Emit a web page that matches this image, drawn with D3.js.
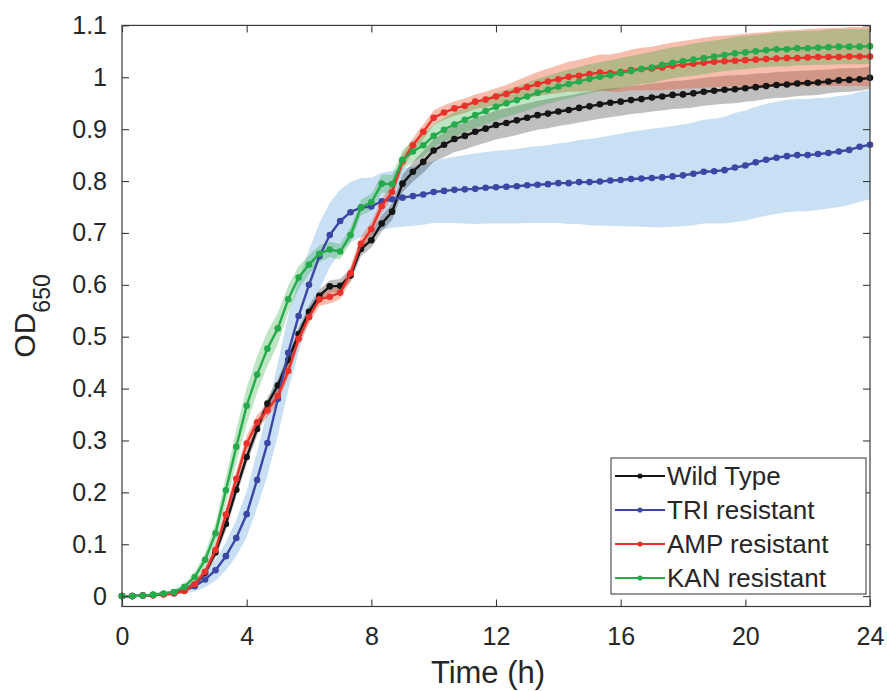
<!DOCTYPE html>
<html>
<head>
<meta charset="utf-8">
<script src="https://cdnjs.cloudflare.com/ajax/libs/d3/7.8.5/d3.min.js"></script>
<style>
  body { margin: 0; background: #fff; }
  text { font-family: "Liberation Sans", Arial, Helvetica, sans-serif; fill: #262626; }
</style>
</head>
<body>
<div id="chart"></div>
<script>
// sampling times (minutes), one reading every 20 min
var minutes = [0,20,40,60,80,100,120,140,160,180,200,220,240,260,280,300,320,340,360,380,400,420,440,460,480,500,520,540,560,580,600,620,640,660,680,700,720,740,760,780,800,820,840,860,880,900,920,940,960,980,1000,1020,1040,1060,1080,1100,1120,1140,1160,1180,1200,1220,1240,1260,1280,1300,1320,1340,1360,1380,1400,1420,1440];

// mean OD650 per strain
var wildType = [0,0,0.001,0.002,0.004,0.007,0.012,0.022,0.045,0.084,0.139,0.205,0.268,0.322,0.371,0.406,0.455,0.505,0.548,0.579,0.597,0.598,0.618,0.669,0.686,0.718,0.741,0.795,0.818,0.837,0.859,0.870,0.881,0.887,0.895,0.901,0.908,0.912,0.917,0.922,0.927,0.930,0.934,0.937,0.941,0.944,0.948,0.951,0.953,0.956,0.958,0.961,0.963,0.966,0.967,0.969,0.972,0.974,0.976,0.977,0.979,0.981,0.983,0.985,0.986,0.988,0.989,0.990,0.992,0.994,0.995,0.996,0.999];
var triRes = [0,0,0.001,0.002,0.004,0.006,0.012,0.019,0.032,0.050,0.077,0.112,0.158,0.224,0.295,0.380,0.469,0.540,0.600,0.655,0.696,0.723,0.740,0.749,0.751,0.761,0.765,0.768,0.771,0.774,0.779,0.781,0.783,0.784,0.785,0.787,0.788,0.789,0.790,0.792,0.793,0.794,0.796,0.796,0.798,0.798,0.799,0.801,0.802,0.804,0.805,0.806,0.807,0.809,0.811,0.814,0.818,0.819,0.821,0.826,0.830,0.836,0.841,0.845,0.848,0.850,0.850,0.852,0.854,0.857,0.860,0.866,0.870];
var ampRes = [0,0,0.001,0.002,0.003,0.005,0.010,0.023,0.047,0.089,0.157,0.226,0.294,0.335,0.358,0.386,0.434,0.496,0.538,0.572,0.577,0.585,0.622,0.679,0.707,0.752,0.779,0.838,0.869,0.895,0.922,0.932,0.940,0.945,0.953,0.957,0.963,0.968,0.975,0.981,0.987,0.992,0.996,1.001,1.003,1.006,1.009,1.008,1.010,1.014,1.016,1.017,1.019,1.022,1.024,1.026,1.028,1.030,1.031,1.032,1.033,1.034,1.035,1.036,1.037,1.037,1.038,1.039,1.039,1.039,1.040,1.040,1.040];
var kanRes = [0,0,0.001,0.003,0.005,0.008,0.018,0.037,0.070,0.121,0.204,0.288,0.367,0.427,0.477,0.516,0.572,0.614,0.639,0.660,0.668,0.664,0.696,0.749,0.759,0.795,0.794,0.841,0.857,0.869,0.887,0.899,0.909,0.918,0.927,0.935,0.943,0.950,0.956,0.963,0.970,0.976,0.982,0.987,0.992,0.997,1.001,1.004,1.008,1.012,1.016,1.019,1.024,1.028,1.031,1.034,1.037,1.040,1.043,1.046,1.048,1.050,1.052,1.054,1.054,1.056,1.056,1.057,1.058,1.059,1.059,1.059,1.060];

// standard deviation (shaded band half-width)
var wildTypeSd = [0.001,0.001,0.001,0.002,0.002,0.003,0.004,0.006,0.008,0.010,0.012,0.013,0.013,0.013,0.012,0.012,0.012,0.012,0.012,0.012,0.012,0.013,0.013,0.014,0.014,0.015,0.016,0.017,0.019,0.021,0.022,0.024,0.025,0.026,0.027,0.027,0.028,0.028,0.028,0.028,0.028,0.028,0.028,0.028,0.028,0.028,0.028,0.028,0.027,0.027,0.027,0.027,0.027,0.027,0.027,0.027,0.027,0.027,0.027,0.027,0.026,0.026,0.025,0.025,0.025,0.024,0.024,0.024,0.023,0.023,0.023,0.022,0.022];
var triResSd = [0.002,0.002,0.002,0.003,0.004,0.005,0.007,0.010,0.015,0.020,0.027,0.035,0.044,0.054,0.063,0.070,0.072,0.070,0.067,0.064,0.062,0.060,0.058,0.057,0.056,0.055,0.055,0.056,0.057,0.058,0.060,0.062,0.064,0.066,0.068,0.069,0.070,0.071,0.072,0.073,0.074,0.075,0.077,0.079,0.081,0.083,0.085,0.087,0.089,0.091,0.093,0.095,0.096,0.097,0.098,0.099,0.100,0.101,0.103,0.105,0.106,0.107,0.108,0.108,0.108,0.108,0.108,0.108,0.107,0.107,0.106,0.106,0.105];
var ampResSd = [0.001,0.001,0.001,0.002,0.002,0.003,0.004,0.006,0.009,0.012,0.014,0.015,0.015,0.014,0.013,0.013,0.013,0.013,0.013,0.013,0.013,0.013,0.014,0.014,0.014,0.014,0.014,0.014,0.014,0.014,0.014,0.014,0.014,0.014,0.014,0.015,0.016,0.017,0.019,0.021,0.023,0.025,0.027,0.029,0.031,0.033,0.035,0.036,0.038,0.039,0.041,0.042,0.044,0.045,0.046,0.047,0.048,0.049,0.049,0.050,0.051,0.052,0.052,0.053,0.054,0.054,0.055,0.055,0.056,0.056,0.057,0.057,0.058];
var kanResSd = [0.001,0.001,0.001,0.002,0.003,0.004,0.006,0.009,0.013,0.020,0.026,0.032,0.035,0.035,0.033,0.030,0.026,0.022,0.018,0.016,0.015,0.015,0.015,0.015,0.016,0.017,0.018,0.019,0.020,0.021,0.022,0.023,0.024,0.024,0.025,0.025,0.026,0.026,0.026,0.027,0.027,0.027,0.027,0.028,0.028,0.028,0.028,0.029,0.029,0.029,0.029,0.030,0.030,0.030,0.030,0.031,0.031,0.031,0.031,0.032,0.032,0.032,0.032,0.033,0.033,0.033,0.033,0.033,0.034,0.034,0.034,0.034,0.034];

var seriesNames = ["Wild Type", "TRI resistant", "AMP resistant", "KAN resistant"];
var xTicks = [0, 4, 8, 12, 16, 20, 24];
var yTicks = [0, 0.1, 0.2, 0.3, 0.4, 0.5, 0.6, 0.7, 0.8, 0.9, 1, 1.1];
var yTickLabels = ["0", "0.1", "0.2", "0.3", "0.4", "0.5", "0.6", "0.7", "0.8", "0.9", "1", "1.1"];

var lineColors = ["#151515", "#3b47a3", "#e8322b", "#26aa4b"];
var bandColors = ["#000000", "#3c8cd7", "#eb5a32", "#28aa3c"];
var bandAlpha = [0.25, 0.28, 0.4, 0.3];

// build series objects
var means = [wildType, triRes, ampRes, kanRes];
var sds = [wildTypeSd, triResSd, ampResSd, kanResSd];
var series = seriesNames.map(function(name, i) {
  return {
    name: name,
    color: lineColors[i],
    band: bandColors[i],
    alpha: bandAlpha[i],
    values: minutes.map(function(m, j) {
      return { t: m / 60, v: means[i][j], sd: sds[i][j] };
    })
  };
});

var width = 887, height = 691;
// plot box in pixels
var pLeft = 122, pRight = 870, pTop = 25.4, pBottom = 606.5;

var svg = d3.select("#chart").append("svg")
    .attr("width", width)
    .attr("height", height);

var x = d3.scaleLinear().domain([0, 24]).range([pLeft, pRight]);
var y = d3.scaleLinear().domain([-0.02, 1.1]).range([pBottom, pTop]);

// bands first (blue at the back)
var area = d3.area()
    .x(function(d) { return x(d.t); })
    .y0(function(d) { return y(d.v - d.sd); })
    .y1(function(d) { return y(d.v + d.sd); });

var bandOrder = [1, 0, 2, 3];
svg.append("g").selectAll("path")
    .data(bandOrder.map(function(i) { return series[i]; }))
    .enter().append("path")
      .attr("d", function(d) { return area(d.values); })
      .attr("fill", function(d) { return d.band; })
      .attr("fill-opacity", function(d) { return d.alpha; })
      .attr("stroke", "none");

// lines + markers
var line = d3.line()
    .x(function(d) { return x(d.t); })
    .y(function(d) { return y(d.v); });

var sg = svg.append("g").selectAll("g")
    .data(series)
    .enter().append("g");

sg.append("path")
    .attr("d", function(d) { return line(d.values); })
    .attr("fill", "none")
    .attr("stroke", function(d) { return d.color; })
    .attr("stroke-width", 2.4)
    .attr("stroke-linejoin", "round");

sg.selectAll("circle")
    .data(function(d) { return d.values.map(function(p) { return { t: p.t, v: p.v, c: d.color }; }); })
    .enter().append("circle")
      .attr("cx", function(d) { return x(d.t); })
      .attr("cy", function(d) { return y(d.v); })
      .attr("r", 3.3)
      .attr("fill", function(d) { return d.c; });

// axes, ticks pointing inward on all four sides
var axisColor = "#3a3a3a";
function styleAxis(g) {
  g.select(".domain").remove();
  g.selectAll("line").attr("stroke", axisColor).attr("stroke-width", 1.1);
  g.selectAll("text").attr("font-size", 25).attr("fill", "#262626")
    .attr("font-family", "'Liberation Sans', Arial, Helvetica, sans-serif");
}

svg.append("g")
    .attr("transform", "translate(0," + pBottom + ")")
    .call(d3.axisBottom(x).tickValues(xTicks).tickSize(-7).tickPadding(21).tickFormat(d3.format("d")))
    .call(styleAxis);

svg.append("g")
    .attr("transform", "translate(0," + pTop + ")")
    .call(d3.axisTop(x).tickValues(xTicks).tickSize(-7).tickFormat(""))
    .call(styleAxis);

svg.append("g")
    .attr("transform", "translate(" + pLeft + ",0)")
    .call(d3.axisLeft(y).tickValues(yTicks).tickSize(-7).tickPadding(15)
      .tickFormat(function(d, i) { return yTickLabels[i]; }))
    .call(styleAxis);

svg.append("g")
    .attr("transform", "translate(" + pRight + ",0)")
    .call(d3.axisRight(y).tickValues(yTicks).tickSize(-7).tickFormat(""))
    .call(styleAxis);

svg.append("rect")
    .attr("x", pLeft).attr("y", pTop)
    .attr("width", pRight - pLeft).attr("height", pBottom - pTop)
    .attr("fill", "none")
    .attr("stroke", axisColor)
    .attr("stroke-width", 1.2);

// axis labels
svg.append("text")
    .attr("x", 488)
    .attr("y", 683)
    .attr("text-anchor", "middle")
    .attr("font-size", 31)
    .text("Time (h)");

var yl = svg.append("text")
    .attr("transform", "translate(35," + ((pTop + pBottom) / 2) + ") rotate(-90)")
    .attr("text-anchor", "middle")
    .attr("font-size", 30);
yl.append("tspan").text("OD");
yl.append("tspan").attr("font-size", 23).attr("dy", 15).text("650");

// legend
var lg = svg.append("g");
lg.append("rect")
    .attr("x", 611).attr("y", 458)
    .attr("width", 255).attr("height", 136)
    .attr("fill", "#fff")
    .attr("stroke", "#333")
    .attr("stroke-width", 1);

var items = lg.selectAll("g.item")
    .data(series)
    .enter().append("g")
      .attr("class", "item")
      .attr("transform", function(d, i) { return "translate(0," + (476 + i * 34) + ")"; });

items.append("line")
    .attr("x1", 615).attr("x2", 665)
    .attr("stroke", function(d) { return d.color; })
    .attr("stroke-width", 2.2);

items.append("circle")
    .attr("cx", 640).attr("r", 2.6)
    .attr("fill", function(d) { return d.color; });

items.append("text")
    .attr("x", 667)
    .attr("dy", "0.36em")
    .attr("font-size", 26)
    .text(function(d) { return d.name; });
</script>
</body>
</html>
